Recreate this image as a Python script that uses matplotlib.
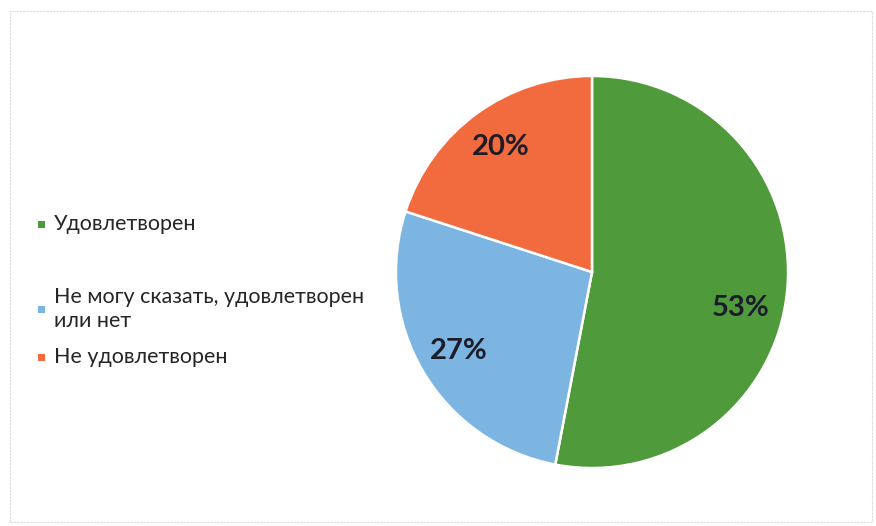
import matplotlib
matplotlib.use("Agg")
import matplotlib.pyplot as plt
from matplotlib.patches import Rectangle

categories = ["Удовлетворен", "Не могу сказать, удовлетворен\nили нет", "Не удовлетворен"]
values = [53, 27, 20]
colors = ["#4F9A3B", "#7DB5E2", "#F26B3E"]

plt.rcParams['font.family'] = ['Lato', 'DejaVu Sans']

W, H = 876, 526
fig = plt.figure(figsize=(W / 100, H / 100), dpi=100)
fig.patch.set_facecolor("white")

# faint frame
fig.add_artist(Rectangle((10 / W, 4 / H), (W - 14) / W, (H - 15) / H, transform=fig.transFigure,
                         fill=False, edgecolor="#D8DCE0", linewidth=0.8, linestyle=(0, (2, 1))))

cx, cy, r = 592, 272, 198
ax = fig.add_axes([(cx - r) / W, (H - cy - r) / H, 2 * r / W, 2 * r / H])
wedges, texts, autotexts = ax.pie(values, colors=colors, startangle=90, counterclock=False,
                                  radius=1, autopct=lambda p: f"{p:.0f}%", pctdistance=0.79,
                                  wedgeprops=dict(edgecolor="white", linewidth=1.8),
                                  textprops=dict(fontsize=21, fontweight="bold", color="#1C1C2A"))
# Excel-style label placement for the large slice
x0, y0 = autotexts[0].get_position()
autotexts[0].set_position((x0 - 0.03, y0 - 0.11))
ax.set_xlim(-1.01, 1.01)
ax.set_ylim(-1.01, 1.01)
ax.set_aspect("equal")
ax.axis("off")

# legend (manual, to match spacing)
legend_y = [224, 309, 357]
for lab, col, ly in zip(categories, colors, legend_y):
    s = 7
    fig.add_artist(Rectangle(((41 - s / 2) / W, (H - ly - s / 2) / H), s / W, s / H,
                             transform=fig.transFigure, facecolor=col, edgecolor="none"))
    fig.text(54 / W, (H - ly) / H, lab, fontsize=15.5, color="#262626", va="center", ha="left",
             linespacing=1.3)

fig.savefig("out.png", dpi=100)
